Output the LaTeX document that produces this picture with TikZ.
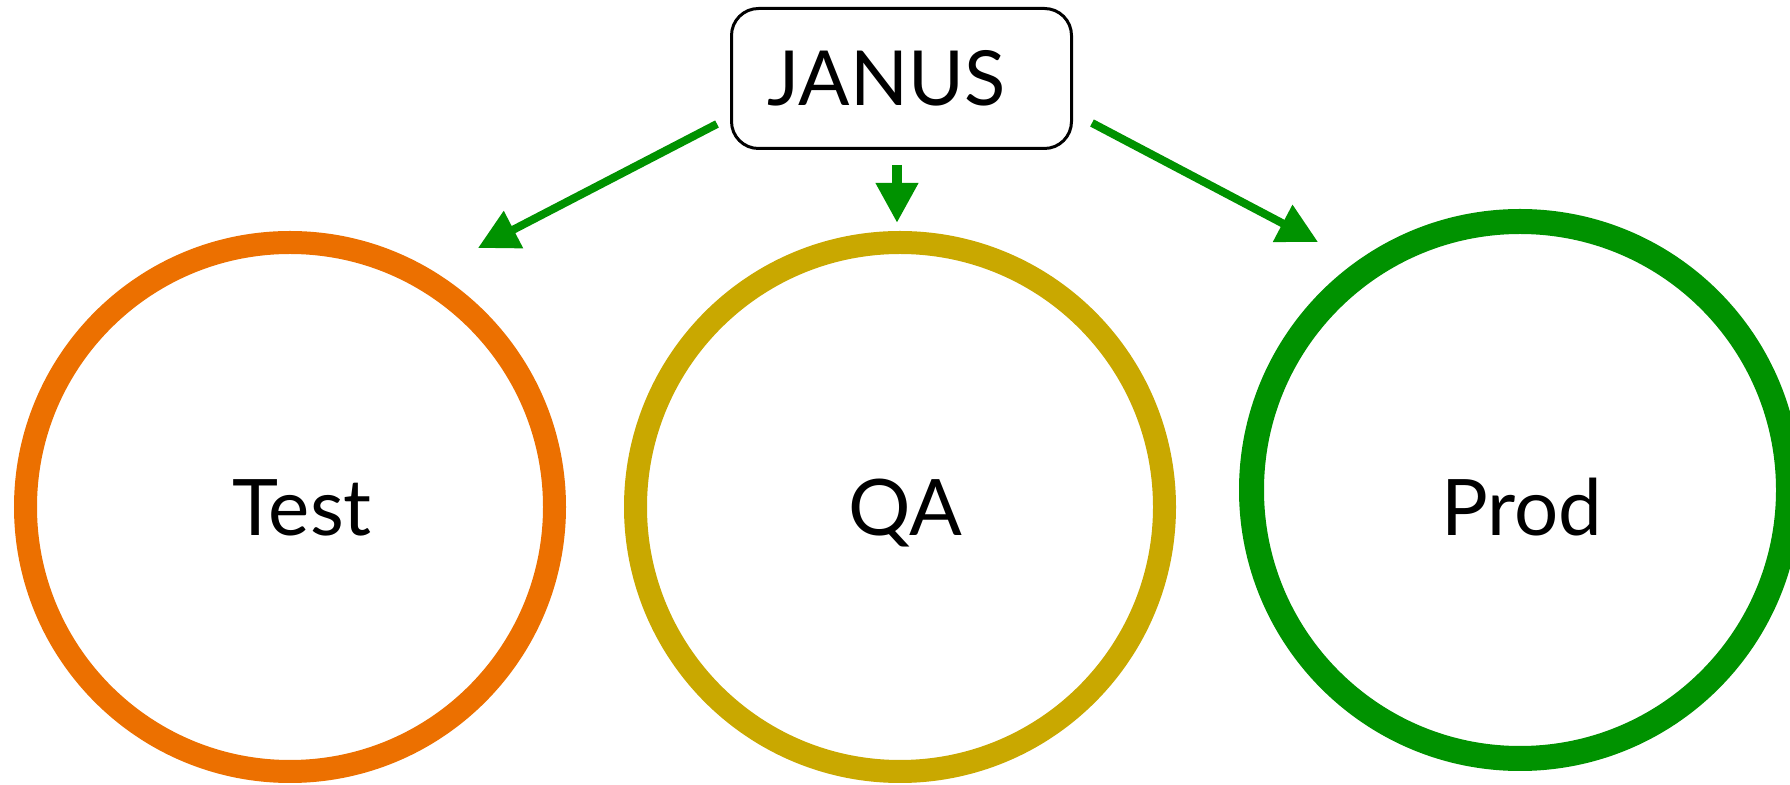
\documentclass[tikz,border=0pt]{standalone}
\usepackage{fontspec}
\setmainfont{Lato}
\usetikzlibrary{arrows.meta,positioning}
\definecolor{testorange}{RGB}{236,112,0}
\definecolor{qaochre}{RGB}{201,168,0}
\definecolor{prodgreen}{RGB}{0,146,0}
\begin{document}
\begin{tikzpicture}[x=0.5pt,y=-0.5pt, %% pixel units, y going down
    ring/.style={circle,draw=#1,line width=11.5pt,minimum size=264.5pt,inner sep=0pt},
    envname/.style={font=\fontsize{39}{39}\selectfont,anchor=base},
    push/.style={draw=prodgreen,line width=4pt,-{Triangle[length=20pt,width=20pt]}}]
  \useasboundingbox (0,0) rectangle (1790,785);%

  %% the gate box
  \node[draw,line width=1.5pt,rounded corners=13.5pt,minimum width=170pt,minimum height=70pt,
        font=\fontsize{38}{38}\selectfont] (janus) at (901.5,78.5) {\hspace*{-15pt}JANUS};%

  %% the three environments
  \node[ring=testorange] (testring) at (290,507) {};%
  \node[ring=qaochre] (qaring) at (900,507) {};%
  \node[ring=prodgreen,line width=12.5pt,minimum size=268.5pt] (prodring) at (1520,490) {};%
  \node[envname] (test) at (302,536) {Test};%
  \node[envname] (qa) at (905,536) {QA};%
  \node[envname] (prod) at (1522,536) {Prod};%

  %% arrows out of the gate
  \coordinate (testfrom) at (717,124); \coordinate (testto) at (478,248);%
  \coordinate (qafrom) at (897,165); \coordinate (qato) at (897,223);%
  \coordinate (prodfrom) at (1092,123); \coordinate (prodto) at (1318,242);%
  \draw[push] (testfrom) -- (testto);%
  \draw[push,line width=5pt] (qafrom) -- (qato);%
  \draw[push] (prodfrom) -- (prodto);%
\end{tikzpicture}
\end{document}
